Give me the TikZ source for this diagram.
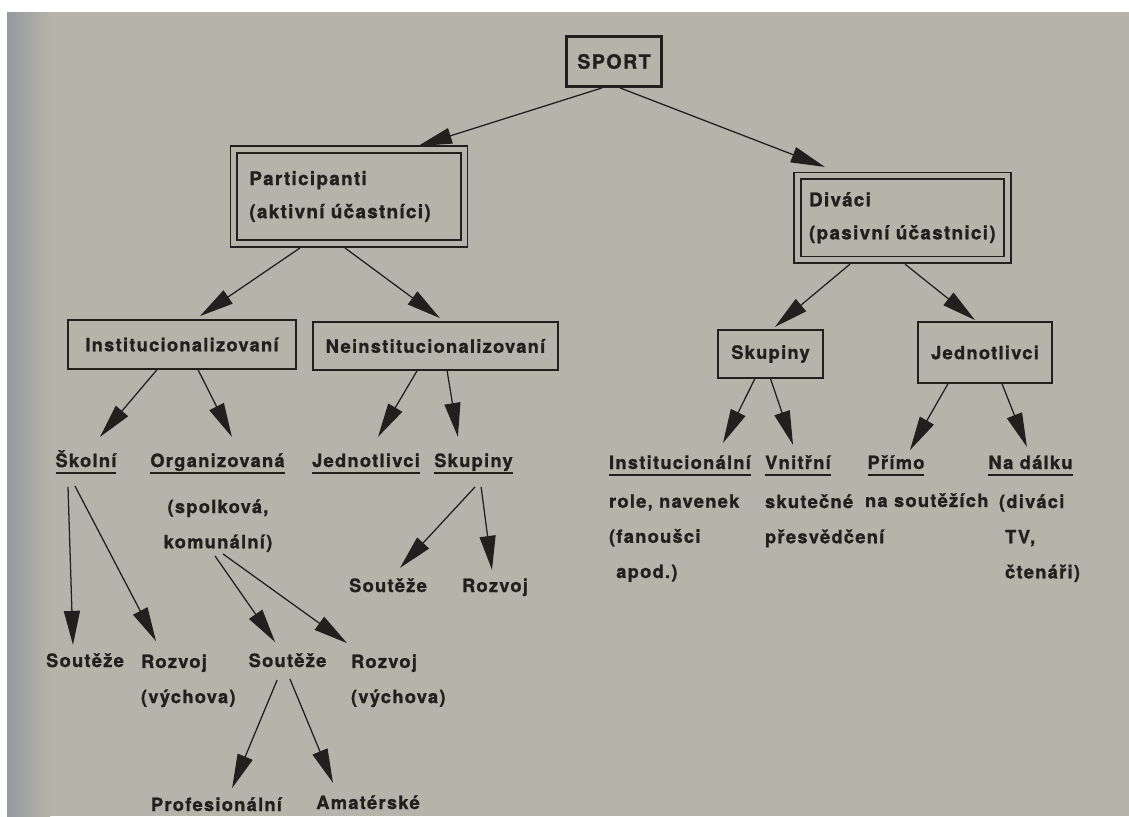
\documentclass[tikz,border=0pt]{standalone}
\usepackage{fontspec}
\newfontfamily\diafont{TeX Gyre Heros}[LetterSpace=7,BoldFeatures={FakeBold=1.2}]
\usepackage{tikz}
\usetikzlibrary{arrows.meta}
\definecolor{paper}{RGB}{181,179,170}
\definecolor{paperdark}{RGB}{150,153,158}
\definecolor{ink}{RGB}{34,32,30}
\newcommand{\diagfont}{\diafont\bfseries\fontsize{13}{25}\selectfont}
\newcommand{\undl}[1]{\setbox0\hbox{#1}\rlap{\copy0}\rule[-5pt]{\wd0}{1.4pt}}
\tikzset{
	sport box/.style={draw=ink,line width=2pt,font=\diafont\bfseries\fontsize{14}{16}\selectfont,
		minimum width=2.375cm,minimum height=1.25cm,inner sep=0pt},
	dbl box/.style={draw=ink,line width=1.2pt,double=paper,double distance=3.6pt,align=left,
		font=\diagfont\fontsize{13.4}{23.5}\selectfont},
	box/.style={draw=ink,line width=1pt,font=\diagfont,inner sep=0pt},
	head/.style={anchor=base,font=\diagfont,text height=10pt,text depth=5pt,inner sep=1pt},
	lbl/.style={anchor=base,font=\diagfont,text height=10pt,text depth=3pt,inner sep=1pt},
	note/.style={anchor=north west,align=left,font=\diagfont,inner sep=1pt}
}

\begin{document}
\begin{tikzpicture}[x=0.025cm,y=-0.025cm,->,>={Triangle[length=0.85cm,width=0.4cm]},
		line width=0.9pt,color=ink]
	\useasboundingbox (0,0) rectangle (1129,816);
	\clip (0,0) rectangle (1129,816);
	\fill[-,white] (0,0) rectangle (1129,816);
	\fill[-,paper] (7,12) rectangle (1129,816);
	\shade[-,left color=paperdark,right color=paper] (7,12) rectangle (50,816);

	\node [sport box] (sport) at (614,61.5) {SPORT};
	\node [dbl box,text width=4.98cm,inner xsep=0.39cm,minimum height=2.36cm] (partic) at (349,196.5) {Participanti\\(aktivní účastníci)};
	\node [dbl box,text width=4.67cm,inner xsep=0.29cm,minimum height=2.1cm] (divaci) at (902.5,217.8) {Diváci\\(pasivní účastnici)};

	\node [box,minimum width=5.7cm,minimum height=1.225cm] (inst) at (182,344.5) {Institucionalizovaní};
	\node [box,minimum width=6.125cm,minimum height=1.2cm] (neinst) at (435.5,346) {Neinstitucionalizovaní};
	\node [box,minimum width=2.625cm,minimum height=1.2cm] (skup) at (770.5,354) {Skupiny};
	\node [box,minimum width=3.35cm,minimum height=1.525cm] (jedn) at (985,352.5) {Jednotlivci};

	\node [head] (skolni) at (86,467) {\undl{Školní}};
	\node [head] (organiz) at (217.5,467) {\undl{Organizovaná}};
	\node [head] (jedn2) at (366,467) {\undl{Jednotlivci}};
	\node [head] (skup2) at (473.5,467) {\undl{Skupiny}};
	\node [head] (instl) at (680,469) {\undl{Institucionální}};
	\node [head] (vnitr) at (798,469) {\undl{Vnitřní}};
	\node [head] (primo) at (896,469) {\undl{Přímo}};
	\node [head] (dalku) at (1030.5,469) {\undl{Na dálku}};

	\node [note,anchor=north,align=center] (orgnote) at (218,497.3) {(spolková,\\komunální)};
	\node [note] (rolenote) at (607,492.3) {role, navenek\\(fanoušci\\\hspace*{0.18cm}apod.)};
	\node [note] (vnitrnote) at (763,492.3) {skutečné\\přesvědčení};
	\node [lbl,anchor=base west] (primonote) at (863,507) {na soutěžích};
	\node [note] (dalkunote) at (997,492.3) {(diváci\\\phantom{(}TV,\\\phantom{(}čtenáři)};

	\node [lbl] (sout1) at (388,592) {Soutěže};
	\node [lbl] (rozv1) at (495,592) {Rozvoj};
	\node [lbl] (sout2) at (85,667) {Soutěže};
	\node [note] (rozv2) at (139,652.3) {Rozvoj\\(výchova)};
	\node [lbl] (sout3) at (287.5,667) {Soutěže};
	\node [note] (rozv3) at (349,652.3) {Rozvoj\\(výchova)};
	\node [lbl] (prof) at (216.5,811) {Profesionální};
	\node [lbl] (amat) at (368,809) {Amatérské};

	\draw ([xshift=-0.3cm]sport.south) -- ([xshift=1.725cm,yshift=0.06cm]partic.north);
	\draw ([xshift=0.15cm]sport.south) -- ([xshift=-1.94cm,yshift=0.2cm]divaci.north);
	\draw ([xshift=-1.225cm,yshift=-0.085cm]partic.south) -- ([xshift=0.45cm,yshift=0.08cm]inst.north);
	\draw ([xshift=-0.1cm,yshift=-0.085cm]partic.south) -- ([xshift=0.11cm,yshift=0.08cm]neinst.north);
	\draw ([xshift=-1.31cm,yshift=-0.085cm]divaci.south) -- ([xshift=0.11cm,yshift=0.06cm]skup.north);
	\draw ([xshift=0.06cm,yshift=-0.085cm]divaci.south) -- ([xshift=-0.25cm,yshift=0.03cm]jedn.north);
	\draw ([xshift=-0.625cm]inst.south) -- ([xshift=0.35cm,yshift=0.35cm]skolni.north);
	\draw ([xshift=0.4cm]inst.south) -- ([xshift=0.36cm,yshift=0.35cm]organiz.north);
	\draw ([xshift=-0.46cm]neinst.south) -- ([xshift=0.3cm,yshift=0.35cm]jedn2.north);
	\draw ([xshift=0.29cm]neinst.south) -- ([xshift=-0.39cm,yshift=0.35cm]skup2.north);
	\draw ([xshift=-0.39cm]skup.south) -- ([xshift=1.075cm,yshift=0.25cm]instl.north);
	\draw (skup.south) -- ([xshift=-0.125cm,yshift=0.2cm]vnitr.north);
	\draw ([xshift=-0.925cm]jedn.south) -- ([xshift=0.35cm,yshift=0.07cm]primo.north);
	\draw ([xshift=0.425cm]jedn.south) -- ([xshift=-0.09cm,yshift=0.15cm]dalku.north);
	\draw ([xshift=-0.45cm,yshift=-0.27cm]skolni.south) -- ([xshift=-0.3cm,yshift=0.15cm]sout2.north);
	\draw ([xshift=-0.275cm,yshift=-0.25cm]skolni.south) -- ([xshift=0.425cm,yshift=0.28cm]rozv2.north west);
	\draw ([xshift=-0.075cm,yshift=-0.05cm]orgnote.south) -- ([xshift=-0.31cm,yshift=0.22cm]sout3.north);
	\draw ([xshift=0.125cm]orgnote.south) -- ([xshift=-0.05cm,yshift=0.23cm]rozv3.north west);
	\draw ([xshift=0.04cm,yshift=-0.27cm]skup2.south) -- ([xshift=0.3cm,yshift=0.2cm]sout1.north);
	\draw ([xshift=0.19cm,yshift=-0.27cm]skup2.south) -- ([xshift=-0.075cm,yshift=0.15cm]rozv1.north);
	\draw ([xshift=-0.26cm,yshift=-0.17cm]sout3.south) -- ([xshift=0.39cm,yshift=0.17cm]prof.north);
	\draw ([xshift=0.06cm,yshift=-0.14cm]sout3.south) -- ([xshift=-0.875cm,yshift=0.25cm]amat.north);
\end{tikzpicture}
\end{document}
